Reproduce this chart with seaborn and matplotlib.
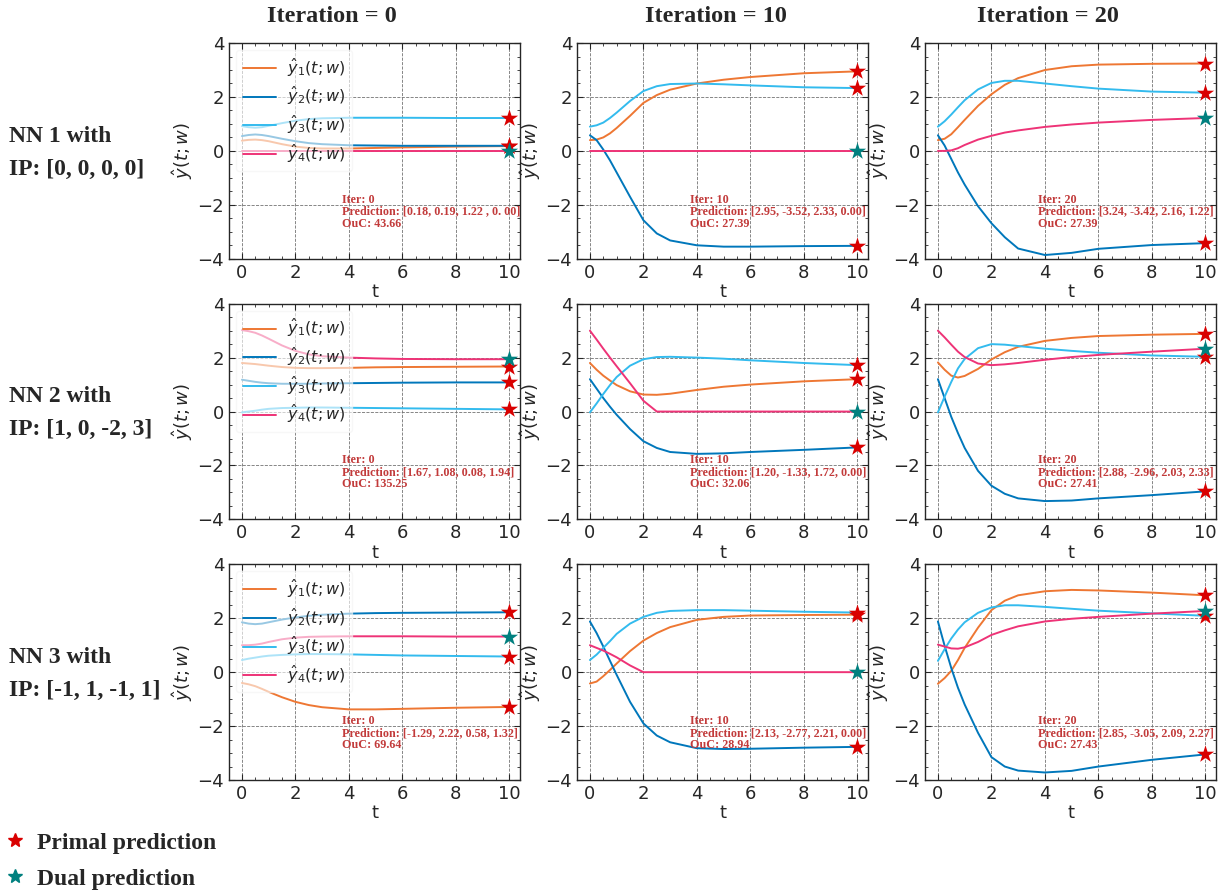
import numpy as np
import pandas as pd
import matplotlib
matplotlib.use("Agg")
import matplotlib.pyplot as plt
from matplotlib.ticker import MultipleLocator
from matplotlib.lines import Line2D
import seaborn as sns

# time samples
t = [0, 0.25, 0.5, 0.75, 1, 1.5, 2, 2.5, 3, 4, 5, 6, 8, 10]

series_names = [r"$\hat{y}_1(t;w)$", r"$\hat{y}_2(t;w)$", r"$\hat{y}_3(t;w)$", r"$\hat{y}_4(t;w)$"]
palette = ["#EE7733", "#0077BB", "#33BBEE", "#EE3377"]

col_titles = ["Iteration = 0", "Iteration = 10", "Iteration = 20"]
iters = [0, 10, 20]
row_labels = ["NN 1 with\nIP: [0, 0, 0, 0]",
              "NN 2 with\nIP: [1, 0, -2, 3]",
              "NN 3 with\nIP: [-1, 1, -1, 1]"]

# ---- NN 1 ----
nn1_it0 = [
    [0.38, 0.41, 0.42, 0.40, 0.36, 0.25, 0.16, 0.11, 0.09, 0.09, 0.11, 0.13, 0.16, 0.18],
    [0.55, 0.59, 0.61, 0.59, 0.55, 0.45, 0.36, 0.29, 0.25, 0.21, 0.20, 0.19, 0.19, 0.19],
    [0.92, 0.88, 0.86, 0.88, 0.93, 1.03, 1.12, 1.18, 1.21, 1.23, 1.23, 1.23, 1.22, 1.22],
    [0.00, 0.00, 0.00, 0.00, 0.00, 0.00, 0.00, 0.00, 0.00, 0.00, 0.00, 0.00, 0.00, 0.00],
]
nn1_it10 = [
    [0.40, 0.42, 0.50, 0.65, 0.85, 1.30, 1.78, 2.07, 2.27, 2.50, 2.64, 2.74, 2.88, 2.95],
    [0.58, 0.40, 0.05, -0.35, -0.80, -1.70, -2.57, -3.06, -3.32, -3.50, -3.55, -3.55, -3.53, -3.52],
    [0.90, 0.95, 1.05, 1.22, 1.42, 1.85, 2.22, 2.40, 2.48, 2.50, 2.47, 2.43, 2.36, 2.33],
    [0.00, 0.00, 0.00, 0.00, 0.00, 0.00, 0.00, 0.00, 0.00, 0.00, 0.00, 0.00, 0.00, 0.00],
]
nn1_it20 = [
    [0.40, 0.45, 0.62, 0.88, 1.15, 1.67, 2.10, 2.45, 2.70, 3.00, 3.14, 3.20, 3.23, 3.24],
    [0.58, 0.20, -0.30, -0.80, -1.25, -2.05, -2.68, -3.20, -3.62, -3.86, -3.78, -3.63, -3.49, -3.42],
    [0.90, 1.10, 1.35, 1.62, 1.88, 2.28, 2.52, 2.60, 2.60, 2.50, 2.40, 2.31, 2.20, 2.16],
    [0.00, 0.00, 0.02, 0.10, 0.22, 0.42, 0.56, 0.68, 0.76, 0.89, 0.98, 1.05, 1.15, 1.22],
]

# ---- NN 2 ----
nn2_it0 = [
    [1.80, 1.78, 1.76, 1.73, 1.70, 1.65, 1.62, 1.61, 1.61, 1.62, 1.64, 1.65, 1.66, 1.67],
    [1.18, 1.14, 1.10, 1.07, 1.05, 1.03, 1.03, 1.03, 1.04, 1.05, 1.06, 1.07, 1.08, 1.08],
    [-0.03, 0.00, 0.03, 0.07, 0.10, 0.13, 0.14, 0.15, 0.15, 0.14, 0.13, 0.12, 0.10, 0.08],
    [3.02, 2.98, 2.92, 2.82, 2.70, 2.45, 2.25, 2.12, 2.05, 2.00, 1.97, 1.95, 1.94, 1.94],
]
nn2_it10 = [
    [1.80, 1.55, 1.33, 1.15, 0.98, 0.75, 0.63, 0.62, 0.66, 0.80, 0.92, 1.00, 1.12, 1.20],
    [1.20, 0.85, 0.50, 0.18, -0.12, -0.65, -1.10, -1.35, -1.50, -1.57, -1.55, -1.50, -1.42, -1.33],
    [-0.03, 0.30, 0.65, 0.98, 1.28, 1.70, 1.94, 2.02, 2.03, 2.00, 1.96, 1.90, 1.80, 1.72],
    [3.00, 2.67, 2.33, 2.00, 1.68, 1.05, 0.40, 0.00, 0.00, 0.00, 0.00, 0.00, 0.00, 0.00],
]
nn2_it20 = [
    [1.82, 1.55, 1.33, 1.26, 1.32, 1.58, 1.93, 2.20, 2.40, 2.62, 2.73, 2.80, 2.85, 2.88],
    [1.20, 0.50, -0.20, -0.80, -1.35, -2.20, -2.75, -3.05, -3.22, -3.32, -3.30, -3.22, -3.10, -2.96],
    [-0.03, 0.55, 1.10, 1.60, 1.95, 2.35, 2.50, 2.48, 2.43, 2.33, 2.25, 2.18, 2.08, 2.03],
    [3.00, 2.75, 2.48, 2.22, 2.02, 1.78, 1.72, 1.75, 1.80, 1.92, 2.02, 2.10, 2.22, 2.33],
]

# ---- NN 3 ----
nn3_it0 = [
    [-0.40, -0.45, -0.52, -0.62, -0.73, -0.93, -1.10, -1.22, -1.30, -1.38, -1.38, -1.36, -1.32, -1.29],
    [1.85, 1.80, 1.78, 1.80, 1.85, 1.95, 2.03, 2.09, 2.13, 2.17, 2.19, 2.20, 2.21, 2.22],
    [0.45, 0.50, 0.54, 0.58, 0.61, 0.64, 0.66, 0.67, 0.67, 0.66, 0.64, 0.62, 0.60, 0.58],
    [1.00, 1.00, 1.02, 1.06, 1.12, 1.22, 1.28, 1.31, 1.32, 1.33, 1.33, 1.33, 1.32, 1.32],
]
nn3_it10 = [
    [-0.42, -0.35, -0.15, 0.08, 0.32, 0.78, 1.17, 1.45, 1.67, 1.94, 2.05, 2.10, 2.12, 2.13],
    [1.88, 1.45, 0.95, 0.42, -0.10, -1.10, -1.90, -2.35, -2.60, -2.82, -2.85, -2.84, -2.80, -2.77],
    [0.45, 0.65, 0.90, 1.15, 1.42, 1.80, 2.05, 2.20, 2.27, 2.30, 2.30, 2.28, 2.24, 2.21],
    [1.00, 0.90, 0.80, 0.68, 0.55, 0.25, 0.00, 0.00, 0.00, 0.00, 0.00, 0.00, 0.00, 0.00],
]
nn3_it20 = [
    [-0.43, -0.22, 0.05, 0.45, 0.90, 1.65, 2.30, 2.65, 2.85, 3.00, 3.05, 3.03, 2.95, 2.85],
    [1.88, 0.98, 0.15, -0.58, -1.20, -2.25, -3.15, -3.50, -3.65, -3.72, -3.66, -3.50, -3.25, -3.05],
    [0.42, 0.85, 1.25, 1.58, 1.85, 2.20, 2.40, 2.48, 2.48, 2.42, 2.35, 2.28, 2.18, 2.09],
    [1.02, 0.95, 0.88, 0.87, 0.92, 1.12, 1.38, 1.55, 1.70, 1.88, 1.98, 2.05, 2.17, 2.27],
]

curves = [[nn1_it0, nn1_it10, nn1_it20],
          [nn2_it0, nn2_it10, nn2_it20],
          [nn3_it0, nn3_it10, nn3_it20]]

predictions = [
    [[0.18, 0.19, 1.22, 0.00], [2.95, -3.52, 2.33, 0.00], [3.24, -3.42, 2.16, 1.22]],
    [[1.67, 1.08, 0.08, 1.94], [1.20, -1.33, 1.72, 0.00], [2.88, -2.96, 2.03, 2.33]],
    [[-1.29, 2.22, 0.58, 1.32], [2.13, -2.77, 2.21, 0.00], [2.85, -3.05, 2.09, 2.27]],
]
pred_labels = [
    ["[0.18, 0.19, 1.22 , 0. 00]", "[2.95, -3.52, 2.33, 0.00]", "[3.24, -3.42, 2.16, 1.22]"],
    ["[1.67, 1.08, 0.08, 1.94]", "[1.20, -1.33, 1.72, 0.00]", "[2.88, -2.96, 2.03, 2.33]"],
    ["[-1.29, 2.22, 0.58, 1.32]", "[2.13, -2.77, 2.21, 0.00]", "[2.85, -3.05, 2.09, 2.27]"],
]
ouc = [[43.66, 27.39, 27.39], [135.25, 32.06, 27.41], [69.64, 28.94, 27.43]]

primal_color = "#D90000"
dual_color = "#00807F"
note_color = "#C23B3B"
serif = ["Liberation Serif", "DejaVu Serif"]

sns.set_style("ticks")
plt.rcParams.update({
    "font.family": ["DejaVu Sans"],
    "mathtext.fontset": "dejavusans",
    "xtick.direction": "in", "ytick.direction": "in",
    "xtick.top": True, "ytick.right": True,
    "xtick.major.size": 4, "ytick.major.size": 4,
    "xtick.minor.size": 2.2, "ytick.minor.size": 2.2,
    "xtick.labelsize": 13, "ytick.labelsize": 13,
    "axes.labelsize": 13, "axes.linewidth": 1.0,
})

fig, axes = plt.subplots(3, 3, figsize=(12.25, 8.93), dpi=100)
fig.subplots_adjust(left=0.187, right=0.9927, bottom=0.1265, top=0.9518,
                    wspace=0.196, hspace=0.208)

for r in range(3):
    for c in range(3):
        ax = axes[r, c]
        df = pd.DataFrame({
            "t": np.tile(t, 4),
            "value": np.concatenate(curves[r][c]),
            "series": np.repeat(series_names, len(t)),
        })
        sns.lineplot(data=df, x="t", y="value", hue="series", hue_order=series_names,
                     palette=palette, linewidth=1.4, ax=ax, legend=(c == 0))
        pred = predictions[r][c]
        ax.scatter([10, 10, 10], pred[:3], marker="*", s=170, color=primal_color, zorder=5,
                   linewidths=0)
        ax.scatter([10], [pred[3]], marker="*", s=170, color=dual_color, zorder=5,
                   linewidths=0)
        ax.text(3.75, -1.58,
                f"Iter: {iters[c]}\nPrediction: {pred_labels[r][c]}\nOuC: {ouc[r][c]:.2f}",
                color=note_color, fontsize=8.7, fontweight="bold", family=serif,
                va="top", ha="left", linespacing=1.0)
        ax.set_xlim(-0.48, 10.4)
        ax.set_ylim(-4, 4)
        ax.xaxis.set_major_locator(MultipleLocator(2))
        ax.xaxis.set_minor_locator(MultipleLocator(0.5))
        ax.yaxis.set_major_locator(MultipleLocator(2))
        ax.yaxis.set_minor_locator(MultipleLocator(0.5))
        ax.tick_params(which="both", top=True, right=True, direction="in")
        ax.grid(True, which="major", linestyle="--", color="0.45", linewidth=0.6)
        ax.set_xlabel("t", labelpad=1)
        ax.set_ylabel(r"$\hat{y}(t;w)$", labelpad=2)
        if c == 0:
            ax.legend(loc="upper left", fontsize=11.5, handlelength=2.1, handletextpad=0.7,
                      labelspacing=0.42, borderaxespad=0.45, framealpha=0.6,
                      edgecolor="0.95", fancybox=True)

col_x = [332, 716, 1048]
for c in range(3):
    fig.text(col_x[c] / 1225, 1 - 16 / 893, col_titles[c], ha="center", va="center",
             fontsize=17.5, fontweight="bold", family=serif)

row_y = [153, 413, 674]
for r in range(3):
    fig.text(9 / 1225, 1 - row_y[r] / 893, row_labels[r], ha="left", va="center",
             fontsize=17, fontweight="bold", family=serif, linespacing=1.75)

handles = [Line2D([], [], marker="*", linestyle="None", color=primal_color, markersize=10),
           Line2D([], [], marker="*", linestyle="None", color=dual_color, markersize=10)]
fig.legend(handles=handles, labels=["Primal prediction", "Dual prediction"],
           loc="upper left", bbox_to_anchor=(3 / 1225, 1 - 832 / 893), frameon=False,
           prop={"family": serif, "weight": "bold", "size": 17},
           handlelength=1.0, handletextpad=0.45, labelspacing=0.62,
           borderaxespad=0, borderpad=0)

fig.savefig("out.png", dpi=100)
